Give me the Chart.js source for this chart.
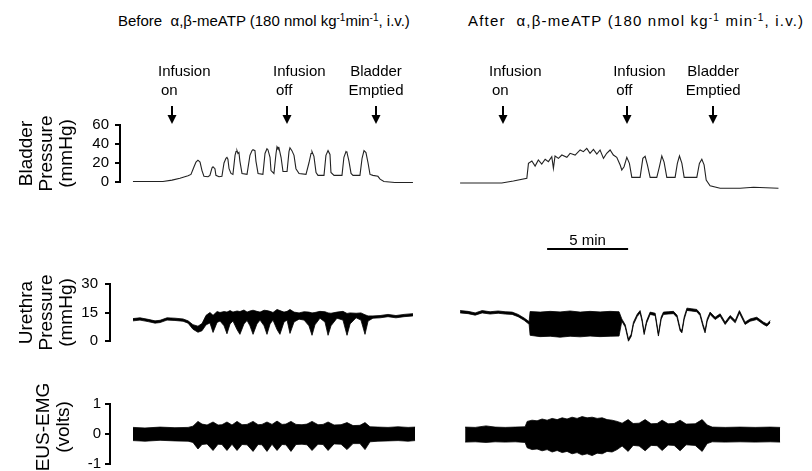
<!DOCTYPE html>
<html><head><meta charset="utf-8">
<script src="https://cdn.jsdelivr.net/npm/chart.js@4.4.1/dist/chart.umd.min.js"></script>
<style>
html,body{margin:0;padding:0;background:#fff;}
body{width:812px;height:471px;overflow:hidden;position:relative;font-family:"Liberation Sans",Arial,Helvetica,sans-serif;color:#000;}
canvas{position:absolute;left:0;}
.txt{position:absolute;white-space:nowrap;}
.title{font-size:15px;line-height:16px;}
.title sup{font-size:10px;line-height:0;vertical-align:5px;}
.lbl{font-size:15px;line-height:19px;}
.ytitle{font-size:19px;line-height:20px;text-align:center;transform:rotate(-90deg);transform-origin:50% 50%;}
</style></head><body>
<div class="txt title" style="left:118px;top:13px">Before&nbsp; α,β-meATP (180 nmol kg<sup>-1</sup>min<sup>-1</sup>, i.v.)</div>
<div class="txt title" style="left:468px;top:13px;letter-spacing:1.2px">After&nbsp; α,β-meATP (180 nmol kg<sup>-1</sup> min<sup>-1</sup>, i.v.)</div>
<canvas id="bladder" width="812" height="110" style="top:95px"></canvas>
<canvas id="urethra" width="812" height="135" style="top:225px"></canvas>
<canvas id="emg" width="812" height="100" style="top:380px"></canvas>
<div class="txt ytitle" style="left:3px;top:407px;width:100px;height:40px">EUS-EMG<br>(volts)</div>
<script>
// ---- shared time axis (minutes) ----
const AFTER_OFFSET = 20.19;          // start of the "after" record on the shared time axis
const eventLabels = [["Infusion","on"],["Infusion","off"],["Bladder","Emptied"]];
const eventTimesBefore = [2.41, 9.51, 15.0];
const eventTimesAfter  = [2.65, 10.31, 15.62];
const scaleBarStart = 25.56;
const scaleBarMinutes = 5;
const scaleBarLabel = "5 min";

// ---- tick labels ----
const bladderTicks = [0, 20, 40, 60];
const urethraTicks = [0, 15, 30];
const emgTicks = [-1, 0, 1];

// ---- bladder pressure (mmHg) ----
const bladderBeforeTime = [0.00,1.05,1.85,2.41,2.90,3.40,3.58,3.77,3.89,4.01,4.14,4.26,4.38,4.63,4.75,4.88,4.94,5.06,5.12,5.31,5.49,5.62,5.74,5.80,5.86,5.93,6.05,6.17,6.30,6.36,6.42,6.48,6.54,6.60,6.73,7.04,7.22,7.35,7.41,7.53,7.59,7.72,8.02,8.15,8.27,8.33,8.46,8.52,8.70,8.83,8.89,8.95,9.01,9.14,9.26,9.51,9.63,9.69,9.81,9.94,10.06,10.25,10.68,10.86,10.99,11.05,11.17,11.30,11.42,11.79,11.91,12.04,12.16,12.22,12.41,12.90,13.02,13.15,13.21,13.33,13.46,13.58,14.01,14.14,14.26,14.38,14.51,14.63,14.81,15.12,15.25,15.49,16.17,16.79,17.28];
const bladderBeforePressure = [0.5,0.5,0.6,2,4,6.5,8,16,21,23,21,12,6,5.5,7,15,16,14,7,5.5,6,20,25,26,24,14,9,8,28,32,33,30,31,22,9,8,28,33,34,33,22,9,8,30,35,34,26,12,9,30,37,35,36,26,11,11,32,36,33,28,14,9,8,20,30,32,27,10,7,7,28,33,29,10,7,7,26,32,31,22,9,7,7,25,33,31,20,8,7,6,3,0.5,-0.5,-0.5,-0.5];
const bladderAfterTime = [0.00,2.57,3.29,4.12,4.22,4.43,4.63,4.83,5.04,5.25,5.45,5.66,5.76,5.86,6.07,6.28,6.59,6.79,7.10,7.41,7.61,7.82,8.02,8.23,8.44,8.64,8.85,9.05,9.26,9.46,9.67,9.88,9.98,10.12,10.29,10.45,10.60,11.11,11.28,11.42,11.56,11.73,12.14,12.30,12.45,12.59,12.76,13.27,13.41,13.54,13.69,13.83,14.61,14.77,14.92,15.06,15.19,15.43,16.05,17.28,18.11,19.65];
const bladderAfterPressure = [-1,-1,1,3.9,19.6,22.1,16.8,23.2,18.9,23.9,21.4,26.7,14.4,27.4,24.9,28.4,26,30.2,28.4,33.7,31.9,35.4,30.2,34.4,29.5,33.7,24.9,30.2,33.7,28.4,26,17.9,12.6,16.1,26,19.6,4.9,4.9,24.9,27,18,4.9,4.9,16,27.4,21,4.9,4.9,19.6,27.4,19.6,4.9,4.9,19.6,24,18,2,-4,-6.5,-6.5,-5.6,-6.5];

// ---- urethra pressure (mmHg): upper / lower trace envelope ----
const urethraBeforeTime = [0.00,0.43,0.93,1.36,1.67,2.10,2.59,3.09,3.40,3.70,4.01,4.26,4.51,4.75,4.94,5.19,5.37,5.62,5.80,5.99,6.17,6.42,6.60,6.85,7.04,7.22,7.41,7.65,7.84,8.09,8.27,8.46,8.64,8.89,9.07,9.32,9.51,9.69,9.94,10.25,10.56,10.86,11.05,11.23,11.54,11.85,12.04,12.22,12.59,12.96,13.21,13.40,13.77,14.07,14.32,14.51,14.81,15.25,15.74,16.23,16.73,17.28];
const urethraBeforeUpper = [11.8,12.2,11.4,10.6,10.9,12.2,12.0,11.6,10.6,8.6,7.8,9.2,13.5,15.0,13.5,15.5,15.0,15.5,15.2,16.0,15.2,15.8,15.5,16.3,15.2,15.8,16.2,15.6,15.2,16.2,16.0,15.6,15.0,16.6,16.0,15.2,15.6,16.6,15.2,14.8,15.4,15.2,14.8,15.0,15.6,15.4,14.8,14.6,15.2,15.6,14.5,14.8,14.6,14.8,13.8,13.2,13.2,13.4,14.0,13.4,14.0,14.4];
const urethraBeforeLower = [10.6,11.0,10.2,9.4,9.7,11.0,10.8,10.4,9.4,6.2,4.6,5.4,8.5,9.5,4.5,9.8,10.5,8.0,3.8,9.0,10.5,6.0,3.5,9.0,10.8,8.0,3.5,9.0,11.0,8.0,3.5,9.0,11.0,6.0,3.5,10.0,11.0,4.0,10.0,11.5,11.0,8.0,3.0,8.5,12.0,10.0,3.0,8.0,12.0,11.0,3.0,9.0,12.2,11.0,3.5,10.5,12.0,12.2,12.8,12.2,12.8,13.2];
const urethraAfterTime = [0.00,0.49,0.93,1.36,1.85,2.35,2.78,3.21,3.58,3.95,4.26,4.32,4.94,5.56,6.17,6.79,7.41,8.02,8.64,9.26,9.81,9.98,10.19,10.39,10.56,10.70,10.93,11.11,11.23,11.36,11.51,11.73,12.04,12.24,12.41,12.55,12.84,13.17,13.39,13.58,13.69,13.83,14.00,14.26,14.61,14.81,15.00,15.12,15.25,15.43,15.74,16.05,16.36,16.67,16.98,17.24,17.59,17.90,18.31,18.73,18.94,19.14];
const urethraAfterUpper = [16.0,15.6,14.8,16.0,15.4,15.8,15.4,15.2,14.0,12.1,10.2,15.5,15.2,15.6,15.3,15.8,15.2,15.6,15.3,15.6,15.4,11.6,8.6,1.1,3.6,9.9,14.1,16.0,11.6,4.6,10.6,15.2,14.6,3.8,12.6,15.2,15.4,15.6,13.6,6.6,5.5,12.6,17.3,17.0,16.6,14.6,8.6,5.5,11.6,15.2,12.5,14.3,9.9,13.4,10.8,16.0,9.9,11.6,12.5,9.9,9.0,10.8];
const urethraAfterLower = [14.8,14.4,13.6,14.8,14.2,14.6,14.2,14.0,12.8,10.9,8.8,3.0,2.3,2.5,2.0,2.5,2.2,2.6,2.3,2.5,2.6,10.4,7.4,-0.1,2.4,8.7,12.9,14.8,10.4,3.4,9.4,14.0,13.4,2.6,11.4,14.0,14.2,14.4,12.4,5.4,4.3,11.4,16.1,15.8,15.4,13.4,7.4,4.3,10.4,14.0,11.3,13.1,8.7,12.2,9.6,14.8,8.7,10.4,11.3,8.7,7.8,9.6];

// ---- EUS-EMG (volts): upper / lower envelope ----
const emgBeforeTime = [0.00,0.74,1.67,2.59,3.40,3.70,4.01,4.26,4.57,4.94,5.25,5.49,5.80,6.11,6.42,6.73,7.04,7.41,7.72,7.96,8.27,8.58,8.89,9.20,9.44,9.75,10.06,10.43,10.74,11.05,11.42,11.73,12.04,12.41,12.84,13.21,13.58,14.01,14.32,14.63,15.12,15.74,16.36,16.98,17.41];
const emgBeforeUpper = [0.22,0.20,0.23,0.21,0.22,0.26,0.42,0.33,0.30,0.40,0.30,0.31,0.40,0.30,0.42,0.31,0.32,0.42,0.31,0.32,0.40,0.32,0.43,0.32,0.33,0.42,0.32,0.31,0.33,0.42,0.31,0.32,0.40,0.30,0.31,0.38,0.28,0.29,0.38,0.24,0.23,0.22,0.24,0.22,0.23];
const emgBeforeLower = [-0.22,-0.24,-0.21,-0.23,-0.24,-0.28,-0.50,-0.35,-0.33,-0.55,-0.34,-0.35,-0.55,-0.34,-0.55,-0.35,-0.36,-0.58,-0.35,-0.36,-0.58,-0.34,-0.55,-0.35,-0.36,-0.58,-0.35,-0.34,-0.36,-0.55,-0.34,-0.35,-0.55,-0.33,-0.34,-0.52,-0.32,-0.32,-0.52,-0.26,-0.24,-0.23,-0.22,-0.24,-0.22];
const emgAfterTime = [0.31,0.93,1.60,2.16,2.78,3.40,4.01,4.14,4.44,4.75,5.06,5.37,5.68,5.99,6.30,6.60,6.91,7.22,7.53,7.84,8.15,8.46,8.77,9.07,9.38,9.69,10.00,10.37,10.68,11.05,11.42,11.79,12.16,12.47,12.84,13.21,13.58,13.95,14.51,14.94,15.25,15.56,16.36,17.28,18.21,19.14,19.75];
const emgAfterUpper = [0.23,0.22,0.27,0.23,0.22,0.23,0.24,0.42,0.46,0.44,0.50,0.46,0.52,0.48,0.54,0.50,0.56,0.52,0.58,0.54,0.56,0.52,0.54,0.48,0.46,0.42,0.36,0.48,0.35,0.36,0.48,0.34,0.35,0.46,0.34,0.35,0.46,0.33,0.34,0.48,0.30,0.23,0.22,0.23,0.22,0.23,0.22];
const emgAfterLower = [-0.27,-0.26,-0.28,-0.26,-0.27,-0.26,-0.28,-0.46,-0.52,-0.50,-0.56,-0.52,-0.60,-0.55,-0.62,-0.58,-0.66,-0.62,-0.70,-0.66,-0.72,-0.64,-0.66,-0.58,-0.60,-0.52,-0.40,-0.58,-0.38,-0.40,-0.56,-0.38,-0.39,-0.55,-0.37,-0.38,-0.56,-0.36,-0.38,-0.58,-0.32,-0.26,-0.27,-0.26,-0.27,-0.26,-0.27];

// ---------------------------------------------------------------
const FONT = "'Liberation Sans', Arial, Helvetica, sans-serif";
Chart.defaults.font.family = FONT;
Chart.defaults.color = '#000';

function pts(t, v, off) { return t.map((x, i) => ({x: x + off, y: v[i]})); }

function yAxis(min, max, ticks, title, titlePad, width, tickPad) {
  return {
    position: 'left', min, max,
    afterFit(s) { s.width = width; },
    afterBuildTicks(s) { s.ticks = ticks.map(v => ({value: v})); },
    grid: {display: true, drawOnChartArea: false, drawTicks: true, tickLength: 5, color: '#000', lineWidth: 2},
    border: {display: true, color: '#000', width: 2},
    ticks: {color: '#000', font: {size: 15}, padding: tickPad, autoSkip: false},
    title: {display: !!title, text: title || '', color: '#000', font: {size: 19, lineHeight: 1.05}, padding: {top: titlePad, bottom: 0}}
  };
}
function baseOptions(padTop, padBottom, xMin, yA) {
  return {
    responsive: false, animation: false, events: [],
    layout: {padding: {top: padTop, bottom: padBottom, left: 0, right: 0}},
    plugins: {legend: {display: false}, tooltip: {enabled: false}},
    scales: {x: {type: 'linear', display: false, min: xMin, max: 41.91}, y: yA},
    elements: {point: {radius: 0}, line: {tension: 0}}
  };
}
function band(lowT, low, up, off) {
  return [
    {data: pts(lowT, low, off), borderColor: '#000', borderWidth: 0.8, fill: false, clip: false, pointRadius: 0},
    {data: pts(lowT, up, off), borderColor: '#000', backgroundColor: '#000', borderWidth: 0.8, fill: '-1', clip: false, pointRadius: 0}
  ];
}

const arrowPlugin = {
  id: 'eventArrows',
  afterDraw(chart) {
    const {ctx, chartArea, scales: {x}} = chart;
    const top = chartArea.top;
    ctx.save();
    ctx.fillStyle = '#000'; ctx.strokeStyle = '#000'; ctx.lineWidth = 2;
    [...eventTimesBefore, ...eventTimesAfter.map(t => t + AFTER_OFFSET)].forEach(t => {
      const px = Math.round(x.getPixelForValue(t));
      ctx.beginPath(); ctx.moveTo(px, top - 19); ctx.lineTo(px, top - 8); ctx.stroke();
      ctx.beginPath(); ctx.moveTo(px - 4.5, top - 10); ctx.lineTo(px + 4.5, top - 10); ctx.lineTo(px, top - 1); ctx.closePath(); ctx.fill();
    });
    ctx.restore();
  }
};
const scaleBarPlugin = {
  id: 'scaleBar',
  afterDraw(chart) {
    const {ctx, chartArea, scales: {x}} = chart;
    const x1 = x.getPixelForValue(scaleBarStart), x2 = x.getPixelForValue(scaleBarStart + scaleBarMinutes);
    const y = chartArea.top - 35;
    ctx.save(); ctx.strokeStyle = '#000'; ctx.lineWidth = 2;
    ctx.beginPath(); ctx.moveTo(x1, y); ctx.lineTo(x2, y); ctx.stroke(); ctx.restore();
  }
};

const bladderChart = new Chart(document.getElementById('bladder'), {
  type: 'line',
  data: {datasets: [
    {data: pts(bladderBeforeTime, bladderBeforePressure, 0), borderColor: '#222', borderWidth: 1.1, fill: false, clip: false, pointRadius: 0},
    {data: pts(bladderAfterTime, bladderAfterPressure, AFTER_OFFSET), borderColor: '#222', borderWidth: 1.1, fill: false, clip: false, pointRadius: 0}
  ]},
  options: baseOptions(30, 23, -0.80, yAxis(0, 60, bladderTicks, ['Bladder', 'Pressure', '(mmHg)'], 17, 120, 6)),
  plugins: [arrowPlugin]
});

const urethraChart = new Chart(document.getElementById('urethra'), {
  type: 'line',
  data: {datasets: [
    ...band(urethraBeforeTime, urethraBeforeLower, urethraBeforeUpper, 0),
    ...band(urethraAfterTime, urethraAfterLower, urethraAfterUpper, AFTER_OFFSET)
  ]},
  options: baseOptions(59, 19, -1.42, yAxis(0, 30, urethraTicks, ['Urethra', 'Pressure', '(mmHg)'], 17, 110, 7)),
  plugins: [scaleBarPlugin]
});

const emgChart = new Chart(document.getElementById('emg'), {
  type: 'line',
  data: {datasets: [
    ...band(emgBeforeTime, emgBeforeLower, emgBeforeUpper, 0),
    ...band(emgAfterTime, emgAfterLower, emgAfterUpper, AFTER_OFFSET)
  ]},
  options: baseOptions(24, 16, -1.42, yAxis(-1, 1, emgTicks, null, 0, 110, 4))
});

// ---- event labels placed on the bladder chart's time scale ----
const xs = bladderChart.scales.x;
const canvasTop = 95;
[...eventTimesBefore, ...eventTimesAfter.map(t => t + AFTER_OFFSET)].forEach((t, i) => {
  const lab = eventLabels[i % 3];
  const px = xs.getPixelForValue(t);
  const d = document.createElement('div');
  d.className = 'txt lbl';
  d.style.top = (canvasTop + bladderChart.chartArea.top - 64) + 'px';
  if (lab[0] === 'Bladder') {
    d.style.left = (px - 40) + 'px'; d.style.width = '80px'; d.style.textAlign = 'center';
    d.innerHTML = lab[0] + '<br>' + lab[1];
  } else {
    d.style.left = (px - 14) + 'px';
    d.innerHTML = lab[0] + '<br><span style="padding-left:3px">' + lab[1] + '</span>';
  }
  document.body.appendChild(d);
});
// scale bar label
const ux = urethraChart.scales.x;
const mid = (ux.getPixelForValue(scaleBarStart) + ux.getPixelForValue(scaleBarStart + scaleBarMinutes)) / 2;
const sl = document.createElement('div');
sl.className = 'txt lbl';
sl.style.left = (mid - 40) + 'px'; sl.style.width = '80px'; sl.style.textAlign = 'center';
sl.style.top = (225 + urethraChart.chartArea.top - 35 - 19) + 'px';
sl.textContent = scaleBarLabel;
document.body.appendChild(sl);
</script>
</body></html>
